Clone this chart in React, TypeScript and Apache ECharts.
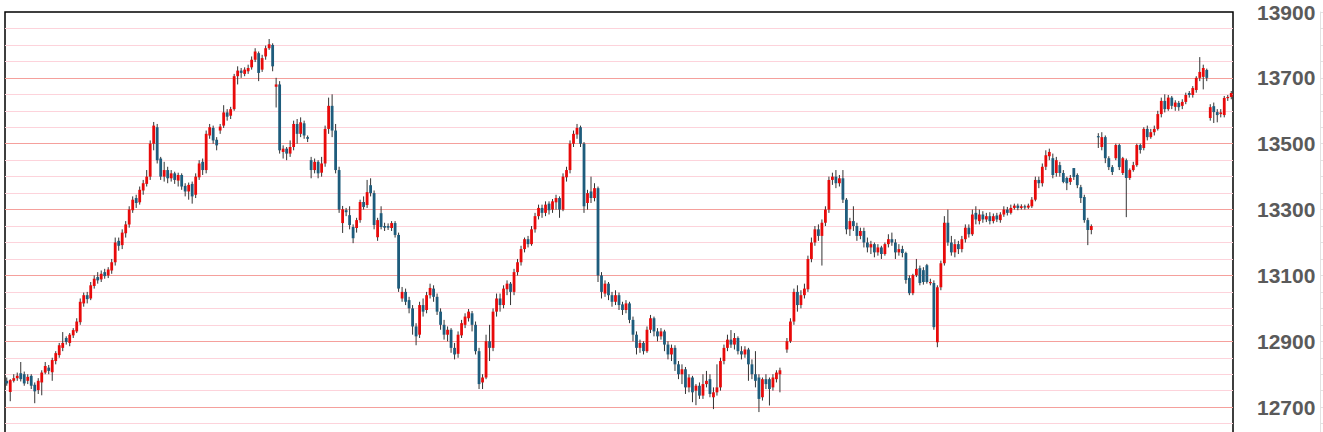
import React, { useEffect, useRef } from "react";
import * as echarts from "echarts";

// Each candle: [open, close, low, high]; null = no trading in that slot
const legRiseA: ([number, number, number, number] | null)[] = [
  [12780, 12772, 12765, 12790], [12746, 12782, 12718, 12785], [12780, 12788, 12775, 12800], [12788, 12795, 12780, 12805],
  [12803, 12785, 12778, 12837], [12800, 12772, 12765, 12808], [12780, 12792, 12770, 12800], [12795, 12765, 12755, 12800],
  [12768, 12748, 12712, 12775], [12752, 12780, 12740, 12788], [12775, 12805, 12736, 12812], [12805, 12825, 12800, 12837],
  [12820, 12810, 12800, 12828], [12806, 12843, 12780, 12850], [12840, 12864, 12830, 12870], [12858, 12888, 12850, 12895],
  [12880, 12895, 12870, 12928], [12910, 12898, 12890, 12915], [12895, 12920, 12885, 12925], [12918, 12934, 12910, 12940],
  [12930, 12960, 12925, 12970], [12958, 13020, 12950, 13030], [13015, 13040, 13005, 13048], [13040, 13028, 13015, 13050],
  [13030, 13070, 13025, 13080], [13068, 13090, 13060, 13100], [13095, 13085, 13075, 13110], [13088, 13105, 13080, 13115],
  [13110, 13098, 13090, 13120], [13100, 13118, 13092, 13125],
  [13115, 13140, 13105, 13150], [13140, 13200, 13130, 13215], [13205, 13190, 13175, 13215], [13192, 13230, 13180, 13240],
  [13228, 13255, 13215, 13265], [13255, 13300, 13245, 13310], [13298, 13330, 13290, 13340], [13335, 13320, 13305, 13345],
  [13322, 13360, 13315, 13370], [13358, 13380, 13345, 13390], [13378, 13400, 13370, 13420], [13400, 13500, 13390, 13510],
  [13500, 13555, 13480, 13566], [13550, 13450, 13440, 13560],
];

const legRiseB: ([number, number, number, number] | null)[] = [
  [13455, 13400, 13390, 13460], [13400, 13420, 13385, 13445], [13420, 13395, 13380, 13430], [13395, 13410, 13385, 13420],
  [13410, 13390, 13378, 13415], [13388, 13405, 13370, 13412], [13405, 13370, 13360, 13410], [13372, 13355, 13340, 13380],
  [13355, 13375, 13330, 13382], [13378, 13340, 13318, 13385],
  [13345, 13400, 13335, 13410], [13398, 13440, 13390, 13450], [13445, 13420, 13405, 13455], [13420, 13530, 13410, 13540],
  [13525, 13550, 13515, 13560], [13548, 13510, 13500, 13555], [13512, 13495, 13480, 13520], [13540, 13552, 13530, 13560],
  [13555, 13595, 13548, 13617], [13595, 13582, 13570, 13605], [13585, 13605, 13575, 13612], [13605, 13705, 13600, 13712],
  [13705, 13722, 13680, 13735], [13722, 13715, 13700, 13730], [13712, 13725, 13705, 13732], [13720, 13730, 13712, 13740],
  [13732, 13755, 13725, 13765], [13755, 13780, 13748, 13790], [13775, 13715, 13690, 13780], [13725, 13760, 13718, 13770],
  [13765, 13790, 13755, 13798], [13790, 13802, 13785, 13818], [13800, 13735, 13720, 13805], [13673, 13680, 13610, 13700],
  [13680, 13480, 13470, 13690],
];

const legFallA: ([number, number, number, number] | null)[] = [
  [13475, 13485, 13455, 13495], [13485, 13470, 13450, 13490], [13470, 13490, 13460, 13510], [13490, 13560, 13480, 13570],
  [13560, 13530, 13500, 13575], [13530, 13565, 13520, 13580], [13562, 13525, 13515, 13570], [13520, 13515, 13505, 13525],
  [13450, 13420, 13395, 13460], [13420, 13445, 13410, 13455], [13445, 13410, 13395, 13450], [13412, 13440, 13400, 13460],
  [13440, 13545, 13430, 13555], [13545, 13615, 13530, 13640], [13615, 13540, 13520, 13650], [13540, 13420, 13410, 13560],
  [13420, 13300, 13290, 13430],
  [13259, 13301, 13229, 13311], [13298, 13292, 13280, 13305], [13283, 13253, 13240, 13310], [13247, 13213, 13198, 13255],
  [13244, 13268, 13230, 13275], [13268, 13323, 13260, 13330], [13323, 13308, 13300, 13340], [13314, 13353, 13305, 13390],
  [13374, 13350, 13340, 13395], [13350, 13253, 13240, 13358], [13216, 13268, 13205, 13275], [13289, 13247, 13240, 13310],
  [13250, 13245, 13235, 13260], [13250, 13245, 13238, 13258], [13244, 13259, 13235, 13265], [13259, 13223, 13215, 13265],
  [13223, 13060, 13050, 13230],
];

const legFallB: ([number, number, number, number] | null)[] = [
  [13030, 13050, 13020, 13065], [13050, 13020, 13010, 13060], [13025, 13000, 12985, 13035], [13000, 12945, 12920, 13010],
  [12945, 12915, 12888, 12955], [12920, 13010, 12910, 13020], [13010, 12990, 12975, 13030], [12995, 13040, 12985, 13050],
  [13040, 13062, 13030, 13075], [13060, 13035, 13020, 13070], [13035, 12990, 12980, 13045],
  [12990, 12950, 12935, 13000], [12950, 12920, 12905, 12965], [12920, 12935, 12900, 12945], [12935, 12880, 12865, 12940],
  [12880, 12860, 12845, 12895], [12862, 12920, 12850, 12930], [12918, 12955, 12910, 12965], [12950, 12975, 12940, 12985],
  [12970, 12990, 12960, 12998], [12985, 12950, 12930, 12992], [12950, 12870, 12860, 12960], [12870, 12770, 12755, 12880],
  [12775, 12790, 12755, 12800], [12790, 12900, 12785, 12920], [12900, 12880, 12840, 12950], [12880, 12990, 12870, 13000],
  [12990, 13030, 12975, 13045],
];

const legRiseC: ([number, number, number, number] | null)[] = [
  [13030, 13010, 12990, 13045], [13010, 13060, 13000, 13070], [13058, 13075, 13040, 13085], [13075, 13050, 13010, 13080],
  [13050, 13110, 13040, 13120], [13110, 13140, 13100, 13150], [13140, 13180, 13130, 13190], [13180, 13210, 13170, 13215],
  [13210, 13195, 13185, 13220], [13195, 13240, 13190, 13250],
  [13240, 13280, 13230, 13290], [13280, 13305, 13270, 13315], [13305, 13290, 13275, 13315], [13290, 13315, 13280, 13325],
  [13318, 13298, 13285, 13325], [13300, 13325, 13290, 13332], [13322, 13335, 13300, 13345], [13335, 13300, 13275, 13340],
  [13300, 13400, 13295, 13410], [13398, 13420, 13385, 13430], [13420, 13500, 13410, 13510], [13500, 13530, 13490, 13540],
  [13528, 13548, 13515, 13560], [13550, 13500, 13490, 13555], [13500, 13310, 13290, 13505], [13320, 13350, 13300, 13360],
  [13355, 13335, 13320, 13400], [13335, 13365, 13325, 13380], [13365, 13100, 13080, 13370],
];

const legFallC: ([number, number, number, number] | null)[] = [
  [13100, 13050, 13030, 13110], [13045, 13075, 13035, 13085], [13075, 13040, 13025, 13080], [13040, 13020, 13005, 13050],
  [13020, 13040, 13010, 13055], [13040, 13010, 12995, 13048], [13012, 12995, 12980, 13020], [12995, 13015, 12985, 13025],
  [13015, 12965, 12955, 13020],
  [12965, 12920, 12900, 12975], [12920, 12880, 12860, 12930], [12880, 12895, 12865, 12905], [12895, 12870, 12860, 12900],
  [12870, 12935, 12865, 12945], [12935, 12970, 12925, 12980], [12970, 12930, 12915, 12975], [12930, 12915, 12900, 12940],
  [12915, 12930, 12905, 12940], [12930, 12890, 12870, 12935], [12890, 12860, 12845, 12900], [12860, 12880, 12840, 12890],
  [12880, 12830, 12810, 12888], [12830, 12800, 12785, 12840], [12800, 12815, 12770, 12830], [12815, 12760, 12740, 12822],
  [12760, 12790, 12745, 12800], [12790, 12745, 12715, 12795], [12750, 12765, 12706, 12770], [12765, 12735, 12725, 12775],
  [12735, 12770, 12725, 12800], [12770, 12780, 12760, 12810], [12785, 12740, 12730, 12800], [12730, 12745, 12694, 12760],
  [12745, 12760, 12735, 12830],
  [12760, 12840, 12750, 12850], [12840, 12880, 12830, 12890], [12880, 12905, 12870, 12920], [12905, 12890, 12880, 12934],
  [12890, 12910, 12875, 12925], [12910, 12870, 12860, 12915],
  [12870, 12860, 12845, 12885], [12860, 12875, 12850, 12885], [12875, 12830, 12780, 12880], [12830, 12800, 12785, 12845],
  [12800, 12780, 12760, 12870], [12790, 12725, 12685, 12800], [12730, 12785, 12720, 12790], [12785, 12770, 12755, 12800],
  [12785, 12755, 12705, 12790], [12760, 12790, 12750, 12800], [12785, 12805, 12775, 12812], [12800, 12812, 12745, 12820],
  null,
];

const legRiseD: ([number, number, number, number] | null)[] = [
  [12875, 12900, 12865, 12910], [12900, 12960, 12895, 12970], [12960, 13050, 12950, 13060], [13050, 13010, 12990, 13070],
  [13010, 13040, 13000, 13055], [13040, 13060, 13030, 13075], [13058, 13150, 13050, 13160], [13150, 13200, 13140, 13215],
  [13200, 13240, 13190, 13250], [13240, 13220, 13205, 13255], [13220, 13260, 13130, 13270], [13260, 13300, 13250, 13310],
  [13300, 13390, 13290, 13400], [13390, 13400, 13375, 13412], [13400, 13380, 13365, 13420], [13380, 13395, 13370, 13405],
  [13395, 13330, 13320, 13420],
  [13330, 13240, 13225, 13335], [13240, 13265, 13220, 13275], [13265, 13250, 13235, 13310], [13250, 13220, 13205, 13260],
  [13220, 13235, 13210, 13245], [13235, 13200, 13185, 13245], [13200, 13185, 13170, 13215], [13185, 13195, 13165, 13205],
  [13195, 13170, 13155, 13200], [13170, 13185, 13160, 13195], [13185, 13165, 13150, 13190], [13165, 13195, 13160, 13200],
  [13195, 13210, 13185, 13225], [13210, 13200, 13190, 13230], [13200, 13170, 13150, 13210],
  [13170, 13180, 13160, 13195], [13180, 13168, 13155, 13190], [13168, 13086, 13075, 13172], [13092, 13046, 13040, 13100],
  [13046, 13101, 13040, 13105], [13101, 13120, 13095, 13150], [13122, 13077, 13070, 13130], [13116, 13080, 13072, 13125],
  [13131, 13080, 13075, 13135], [13077, 13080, 13070, 13090], [13077, 12943, 12935, 13085], [12897, 13064, 12882, 13070],
  [13064, 13137, 13055, 13145], [13137, 13260, 13130, 13280],
];

const legRiseE: ([number, number, number, number] | null)[] = [
  [13260, 13200, 13190, 13300], [13200, 13170, 13160, 13220], [13170, 13195, 13155, 13210], [13195, 13180, 13165, 13205],
  [13180, 13210, 13170, 13220], [13210, 13245, 13200, 13255], [13245, 13225, 13215, 13255], [13225, 13285, 13220, 13300],
  [13290, 13270, 13255, 13310], [13265, 13285, 13255, 13300], [13285, 13270, 13260, 13295], [13270, 13280, 13262, 13290],
  [13280, 13265, 13255, 13292], [13265, 13280, 13258, 13288], [13282, 13270, 13262, 13290], [13268, 13285, 13260, 13292],
  [13285, 13300, 13278, 13310], [13300, 13290, 13282, 13308], [13290, 13305, 13285, 13315], [13305, 13312, 13300, 13318],
  [13312, 13305, 13298, 13318], [13305, 13310, 13300, 13316], [13310, 13306, 13300, 13315], [13306, 13312, 13302, 13318],
  [13310, 13330, 13305, 13338],
  [13330, 13390, 13325, 13400], [13390, 13380, 13365, 13400], [13380, 13430, 13370, 13440], [13430, 13465, 13420, 13480],
  [13462, 13475, 13450, 13485], [13456, 13405, 13395, 13470], [13411, 13450, 13400, 13460], [13435, 13411, 13400, 13445],
  [13411, 13384, 13380, 13420], [13396, 13380, 13359, 13400], [13384, 13396, 13375, 13405], [13426, 13399, 13390, 13426],
  [13405, 13374, 13365, 13410], [13368, 13335, 13320, 13375], [13338, 13268, 13260, 13345], [13268, 13238, 13192, 13275],
  [13238, 13250, 13225, 13255],
  null,
];

const legRiseF: ([number, number, number, number] | null)[] = [
  [13523, 13520, 13487, 13532], [13490, 13520, 13480, 13535], [13520, 13456, 13441, 13525], [13456, 13429, 13420, 13462],
  [13429, 13414, 13405, 13435], [13456, 13496, 13450, 13500], [13496, 13429, 13420, 13500], [13411, 13456, 13405, 13460],
  [13450, 13396, 13277, 13455], [13396, 13420, 13390, 13425], [13420, 13435, 13415, 13445], [13435, 13496, 13430, 13500],
  [13496, 13481, 13470, 13500], [13487, 13545, 13480, 13550], [13545, 13520, 13510, 13555], [13520, 13535, 13515, 13545],
  [13535, 13545, 13525, 13555],
  [13545, 13590, 13540, 13600], [13590, 13630, 13580, 13640], [13630, 13605, 13595, 13650], [13605, 13640, 13600, 13648],
  [13640, 13615, 13605, 13645], [13612, 13625, 13600, 13632], [13624, 13611, 13600, 13630], [13615, 13627, 13605, 13635],
  [13627, 13648, 13620, 13655], [13654, 13648, 13640, 13660], [13648, 13669, 13640, 13675], [13663, 13700, 13655, 13705],
  [13700, 13718, 13690, 13763], [13703, 13730, 13665, 13740], [13724, 13700, 13690, 13728], [13578, 13611, 13570, 13620],
  [13614, 13596, 13563, 13625], [13596, 13587, 13565, 13605], [13590, 13595, 13580, 13605], [13587, 13639, 13580, 13645],
  [13639, 13642, 13630, 13648], [13642, 13654, 13635, 13660],
];

const candles = [
  ...legRiseA, ...legRiseB, ...legFallA, ...legFallB, ...legRiseC,
  ...legFallC, ...legRiseD, ...legRiseE, ...legRiseF,
];
const slots = candles.map((_, i) => String(i));

const priceMin = 12500;
const priceMax = 13900;
const labelStep = 200;

const UP = "#e80a0a";
const DOWN = "#1e5c7c";
const WICK = "#333333";

export default function App() {
  const ref = useRef<HTMLDivElement>(null);
  useEffect(() => {
    if (!ref.current) return;
    const chart = echarts.init(ref.current, undefined, { renderer: "svg" });
    const seriesData: number[][] = [];
    candles.forEach((c, i) => {
      if (c) seriesData.push([i, c[0], c[1], c[2], c[3]]);
    });
    chart.setOption({
      animation: false,
      backgroundColor: "#ffffff",
      grid: {
        left: 5,
        width: 1228,
        top: 12,
        height: 461,
        containLabel: false,
        outerBoundsMode: "none",
        show: true,
        borderColor: "#000000",
        borderWidth: 1.5,
        backgroundColor: "#ffffff",
      },
      xAxis: {
        type: "category",
        data: slots,
        boundaryGap: true,
        axisLine: { show: false },
        axisTick: { show: false },
        axisLabel: { show: false },
        splitLine: { show: false },
      },
      yAxis: [
        {
          type: "value",
          position: "right",
          min: priceMin,
          max: priceMax,
          interval: labelStep,
          axisLine: { show: false },
          axisTick: { show: false },
          axisLabel: {
            margin: 24,
            fontSize: 21,
            fontWeight: "bold",
            color: "#5a5a5a",
            fontFamily: "'Liberation Sans', Arial, sans-serif",
            showMinLabel: false,
            formatter: (v: number) => (v === priceMin ? "" : String(v)),
          },
          splitLine: {
            show: true,
            showMaxLine: false,
            lineStyle: { color: "#f5a09c", width: 1 },
          },
          minorTick: { show: false, splitNumber: 4 },
          minorSplitLine: { show: true, lineStyle: { color: "#fdd3db", width: 1 } },
        },
        {
          type: "value",
          position: "right",
          offset: 87,
          min: priceMin,
          max: priceMax,
          interval: 50,
          axisLine: { show: true, lineStyle: { color: "#e2e2e2", width: 1 } },
          axisTick: { show: true, length: 3, lineStyle: { color: "#e2e2e2" } },
          axisLabel: { show: false },
          splitLine: { show: false },
        },
      ],
      series: [
        {
          type: "custom",
          xAxisIndex: 0,
          yAxisIndex: 0,
          data: seriesData,
          encode: { x: 0, y: [1, 2, 3, 4] },
          renderItem: (_params: any, api: any) => {
            const idx = api.value(0);
            const o = api.value(1);
            const c = api.value(2);
            const lo = api.value(3);
            const hi = api.value(4);
            const pO = api.coord([idx, o]);
            const pC = api.coord([idx, c]);
            const pL = api.coord([idx, lo]);
            const pH = api.coord([idx, hi]);
            const w = Math.max(2, api.size([1, 0])[0] * 0.8);
            const x = pO[0];
            const top = Math.min(pO[1], pC[1]);
            const h = Math.max(Math.abs(pO[1] - pC[1]), 1.2);
            return {
              type: "group",
              children: [
                {
                  type: "line",
                  shape: { x1: x, y1: pH[1], x2: x, y2: pL[1] },
                  style: { stroke: WICK, lineWidth: 1 },
                },
                {
                  type: "rect",
                  shape: { x: x - w / 2, y: top, width: w, height: h },
                  style: { fill: c >= o ? UP : DOWN },
                },
              ],
            };
          },
        },
      ],
    });
    return () => chart.dispose();
  }, []);
  return (
    <div
      ref={ref}
      style={{ position: "fixed", left: 0, top: 0, width: 1323, height: 432 }}
    />
  );
}
